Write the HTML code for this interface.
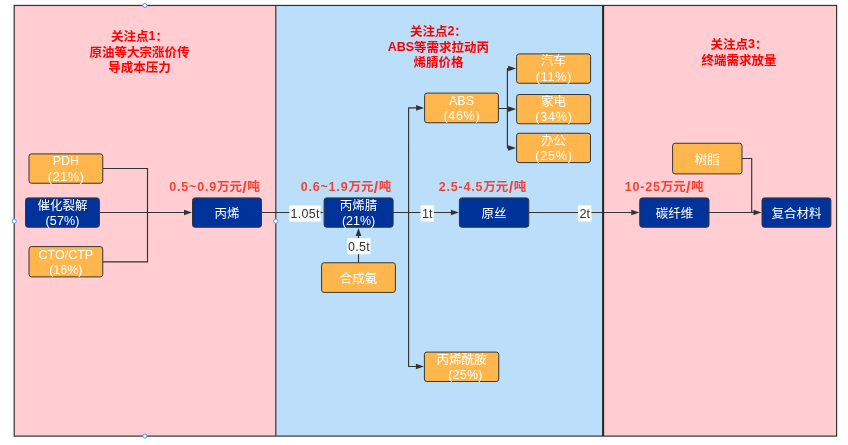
<!DOCTYPE html>
<html lang="zh">
<head>
<meta charset="utf-8">
<title>碳纤维产业链</title>
<style>
html,body{margin:0;padding:0;background:#fff;}
body{width:848px;height:445px;overflow:hidden;position:relative;font-family:"Liberation Sans","Noto Sans CJK SC",sans-serif;}
#stage{position:absolute;left:0;top:0;width:848px;height:445px;overflow:hidden;will-change:transform;}
#shapes{position:absolute;left:0;top:0;}
.t{position:absolute;text-align:center;white-space:nowrap;font-size:12.5px;line-height:15.5px;height:15.5px;color:var(--c);}
.w{--c:#fff;}
.ti{--c:#FF0000;font-weight:bold;}
.pr{--c:#F44336;font-weight:bold;}
.pr .la{letter-spacing:0.8px;}
.pr .sl{font-size:16px;line-height:0;vertical-align:-1.6px;margin:0 0.6px 0 0.3px;}
.pr .cj{vertical-align:-0.03em;}
.lb{--c:#333;}
.cj{display:inline-block;position:relative;vertical-align:-0.08em;letter-spacing:0;font-family:"Liberation Sans","Noto Sans CJK SC",sans-serif;color:var(--c);white-space:nowrap;}
</style>
</head>
<body>
<div id="stage">
<svg id="shapes" width="848" height="445" viewBox="0 0 848 445">
<rect x="14.2" y="5.45" width="261.6" height="430.65000000000003" fill="#FFCDD2"/>
<rect x="275.8" y="5.45" width="327.3" height="430.65000000000003" fill="#BBDEFB"/>
<rect x="603.1" y="5.45" width="233.5" height="430.65000000000003" fill="#FFCDD2"/>
<g stroke="#333" fill="none">
<rect x="14.2" y="5.45" width="822.4" height="430.65000000000003" stroke-width="1.2"/>
<line x1="275.8" y1="5.45" x2="275.8" y2="436.1" stroke-width="1.25" stroke="#3c3c3c"/>
<line x1="603.1" y1="5.45" x2="603.1" y2="436.1" stroke-width="2.1" stroke="#2a2a2a"/>
</g>
<path d="M102.75 168.5H147.5V261.9H102.75M99.4 212.5H186M261.5 212.5H318M393.1 212.5H453M408.6 107.9V366.5M408.1 107.9H418M408.1 366.5H418M498.4 108.5H507.4M507.4 68.5V148M506.9 68.5H510M507.4 109.1H510M506.9 148H510M358.5 262.75V234M528.75 212.5H633M709 212.5H755M742 158.5H751.7V213" stroke="#333" stroke-width="1.15" fill="none"/>
<polygon points="192.00,212.50 184.00,209.65 184.00,215.35" fill="#333"/>
<polygon points="323.60,212.50 315.60,209.65 315.60,215.35" fill="#333"/>
<polygon points="458.90,212.50 450.90,209.65 450.90,215.35" fill="#333"/>
<polygon points="424.10,107.90 416.10,105.05 416.10,110.75" fill="#333"/>
<polygon points="423.90,366.50 415.90,363.65 415.90,369.35" fill="#333"/>
<polygon points="516.10,68.50 508.10,65.65 508.10,71.35" fill="#333"/>
<polygon points="516.10,109.10 508.10,106.25 508.10,111.95" fill="#333"/>
<polygon points="516.10,148.00 508.10,145.15 508.10,150.85" fill="#333"/>
<polygon points="358.50,227.90 355.65,235.90 361.35,235.90" fill="#333"/>
<polygon points="639.25,212.50 631.25,209.65 631.25,215.35" fill="#333"/>
<polygon points="761.50,212.50 753.50,209.65 753.50,215.35" fill="#333"/>
<rect x="289.4" y="205.4" width="31.20" height="16.20" fill="#fff"/>
<rect x="420.6" y="205.4" width="13.30" height="16.20" fill="#fff"/>
<rect x="578.1" y="205.4" width="13.30" height="16.20" fill="#fff"/>
<rect x="347.3" y="238.25" width="23.20" height="16.00" fill="#fff"/>
<rect x="29" y="153.9" width="73.75" height="29.35" rx="2.5" fill="#FFB74D" stroke="#363636" stroke-width="1"/>
<rect x="25.5" y="197.9" width="73.90" height="29.35" rx="2.5" fill="#003399" stroke="#363636" stroke-width="1"/>
<rect x="29" y="246.6" width="73.75" height="30.30" rx="2.5" fill="#FFB74D" stroke="#363636" stroke-width="1"/>
<rect x="192.5" y="197.9" width="69.00" height="29.35" rx="2.5" fill="#003399" stroke="#363636" stroke-width="1"/>
<rect x="324.1" y="197.9" width="69.00" height="29.35" rx="2.5" fill="#003399" stroke="#363636" stroke-width="1"/>
<rect x="321.6" y="262.75" width="73.80" height="29.65" rx="2.5" fill="#FFB74D" stroke="#363636" stroke-width="1"/>
<rect x="424.6" y="93.1" width="73.80" height="29.65" rx="2.5" fill="#FFB74D" stroke="#363636" stroke-width="1"/>
<rect x="516.6" y="53.9" width="74.00" height="29.35" rx="2.5" fill="#FFB74D" stroke="#363636" stroke-width="1"/>
<rect x="516.6" y="94.5" width="74.00" height="29.25" rx="2.5" fill="#FFB74D" stroke="#363636" stroke-width="1"/>
<rect x="516.6" y="133.25" width="73.90" height="29.35" rx="2.5" fill="#FFB74D" stroke="#363636" stroke-width="1"/>
<rect x="459.4" y="197.9" width="69.35" height="29.35" rx="2.5" fill="#003399" stroke="#363636" stroke-width="1"/>
<rect x="424.4" y="352.1" width="74.35" height="29.40" rx="2.5" fill="#FFB74D" stroke="#363636" stroke-width="1"/>
<rect x="672.6" y="143.25" width="69.40" height="30.65" rx="2.5" fill="#FFB74D" stroke="#363636" stroke-width="1"/>
<rect x="639.75" y="197.9" width="69.25" height="29.35" rx="2.5" fill="#003399" stroke="#363636" stroke-width="1"/>
<rect x="762" y="197.9" width="68.90" height="29.35" rx="2.5" fill="#003399" stroke="#363636" stroke-width="1"/>
<circle cx="144.9" cy="5.5" r="2.1" fill="#fff" stroke="#4A9AF0" stroke-width="1"/>
<circle cx="144.9" cy="436.1" r="2.1" fill="#fff" stroke="#4A9AF0" stroke-width="1"/>
<circle cx="14.2" cy="221.2" r="2.1" fill="#fff" stroke="#4A9AF0" stroke-width="1"/>
<circle cx="275.8" cy="221.2" r="2.1" fill="#fff" stroke="#4A9AF0" stroke-width="1"/>
</svg>
<div class="t w" style="left:52.65px;top:154.42px;width:26.45px"><span class="la">PDH</span></div>
<div class="t w" style="left:47.78px;top:169.92px;width:36.88px;letter-spacing:0.7px"><span class="la">(21%)</span></div>
<div class="t w" style="left:37.43px;top:198.42px;width:50.04px"><span class="cj" style="width:4em">催化裂解</span></div>
<div class="t w" style="left:45.36px;top:213.92px;width:34.38px;letter-spacing:0.2px"><span class="la">(57%)</span></div>
<div class="t w" style="left:38.53px;top:247.60px;width:54.68px"><span class="la">CTO/CTP</span></div>
<div class="t w" style="left:49.18px;top:263.10px;width:33.38px"><span class="la">(16%)</span></div>
<div class="t w" style="left:214.48px;top:206.17px;width:25.04px"><span class="cj" style="width:2em">丙烯</span></div>
<div class="t w" style="left:339.83px;top:198.42px;width:37.54px"><span class="cj" style="width:3em">丙烯腈</span></div>
<div class="t w" style="left:341.91px;top:213.92px;width:33.38px"><span class="la">(21%)</span></div>
<div class="t w" style="left:339.73px;top:271.18px;width:37.54px"><span class="cj" style="width:3em">合成氨</span></div>
<div class="t w" style="left:448.97px;top:93.77px;width:25.06px"><span class="la">ABS</span></div>
<div class="t w" style="left:443.41px;top:109.27px;width:36.88px;letter-spacing:0.7px"><span class="la">(46%)</span></div>
<div class="t w" style="left:541.08px;top:53.43px;width:25.04px"><span class="cj" style="width:2em">汽车</span></div>
<div class="t w" style="left:535.77px;top:69.92px;width:36.46px;letter-spacing:0.8px"><span class="la">(11%)</span></div>
<div class="t w" style="left:541.08px;top:93.97px;width:25.04px"><span class="cj" style="width:2em">家电</span></div>
<div class="t w" style="left:535.31px;top:110.47px;width:37.38px;letter-spacing:0.8px"><span class="la">(34%)</span></div>
<div class="t w" style="left:541.03px;top:132.78px;width:25.04px"><span class="cj" style="width:2em">办公</span></div>
<div class="t w" style="left:535.26px;top:149.28px;width:37.38px;letter-spacing:0.8px"><span class="la">(25%)</span></div>
<div class="t w" style="left:481.56px;top:206.17px;width:25.04px"><span class="cj" style="width:2em">原丝</span></div>
<div class="t w" style="left:436.56px;top:351.65px;width:50.04px"><span class="cj" style="width:4em">丙烯酰胺</span></div>
<div class="t w" style="left:444.42px;top:368.15px;width:38.37px;letter-spacing:0.25px"><span class="la">&nbsp;(25%)</span></div>
<div class="t w" style="left:694.78px;top:152.17px;width:25.04px"><span class="cj" style="width:2em">树脂</span></div>
<div class="t w" style="left:655.61px;top:206.17px;width:37.54px"><span class="cj" style="width:3em">碳纤维</span></div>
<div class="t w" style="left:771.43px;top:206.17px;width:50.04px"><span class="cj" style="width:4em">复合材料</span></div>
<div class="t ti" style="left:111.00px;top:28.90px;width:56.99px"><span class="cj" style="width:3em">关注点</span><span class="la">1</span><span class="cj" style="width:1em">：</span></div>
<div class="t ti" style="left:89.48px;top:44.60px;width:100.04px"><span class="cj" style="width:8em">原油等大宗涨价传</span></div>
<div class="t ti" style="left:108.23px;top:60.30px;width:62.54px"><span class="cj" style="width:5em">导成本压力</span></div>
<div class="t ti" style="left:409.90px;top:23.85px;width:56.99px"><span class="cj" style="width:3em">关注点</span><span class="la">2</span><span class="cj" style="width:1em">：</span></div>
<div class="t ti" style="left:387.68px;top:39.60px;width:101.45px"><span class="la">ABS</span><span class="cj" style="width:6em">等需求拉动丙</span></div>
<div class="t ti" style="left:413.38px;top:54.90px;width:50.04px"><span class="cj" style="width:4em">烯腈价格</span></div>
<div class="t ti" style="left:710.50px;top:37.10px;width:56.99px"><span class="cj" style="width:3em">关注点</span><span class="la">3</span><span class="cj" style="width:1em">：</span></div>
<div class="t ti" style="left:701.48px;top:52.50px;width:75.04px"><span class="cj" style="width:6em">终端需求放量</span></div>
<div class="t pr" style="left:169.33px;top:180.00px;width:90.54px"><span class="la">0.5~0.9</span><span class="cj" style="width:2em">万元</span><span class="sl">/</span><span class="cj" style="width:1em">吨</span></div>
<div class="t pr" style="left:300.73px;top:180.00px;width:90.54px"><span class="la">0.6~1.9</span><span class="cj" style="width:2em">万元</span><span class="sl">/</span><span class="cj" style="width:1em">吨</span></div>
<div class="t pr" style="left:438.79px;top:180.00px;width:87.42px"><span class="la">2.5-4.5</span><span class="cj" style="width:2em">万元</span><span class="sl">/</span><span class="cj" style="width:1em">吨</span></div>
<div class="t pr" style="left:624.67px;top:180.00px;width:78.87px"><span class="la">10-25</span><span class="cj" style="width:2em">万元</span><span class="sl">/</span><span class="cj" style="width:1em">吨</span></div>
<div class="t lb" style="left:290.57px;top:206.85px;width:29.10px;letter-spacing:0.25px"><span class="la">1.05t</span></div>
<div class="t lb" style="left:421.88px;top:206.85px;width:10.98px;letter-spacing:0.25px"><span class="la">1t</span></div>
<div class="t lb" style="left:579.38px;top:206.85px;width:10.98px;letter-spacing:0.25px"><span class="la">2t</span></div>
<div class="t lb" style="left:348.07px;top:239.60px;width:21.90px;letter-spacing:0.25px"><span class="la">0.5t</span></div>
</div>
</body>
</html>
